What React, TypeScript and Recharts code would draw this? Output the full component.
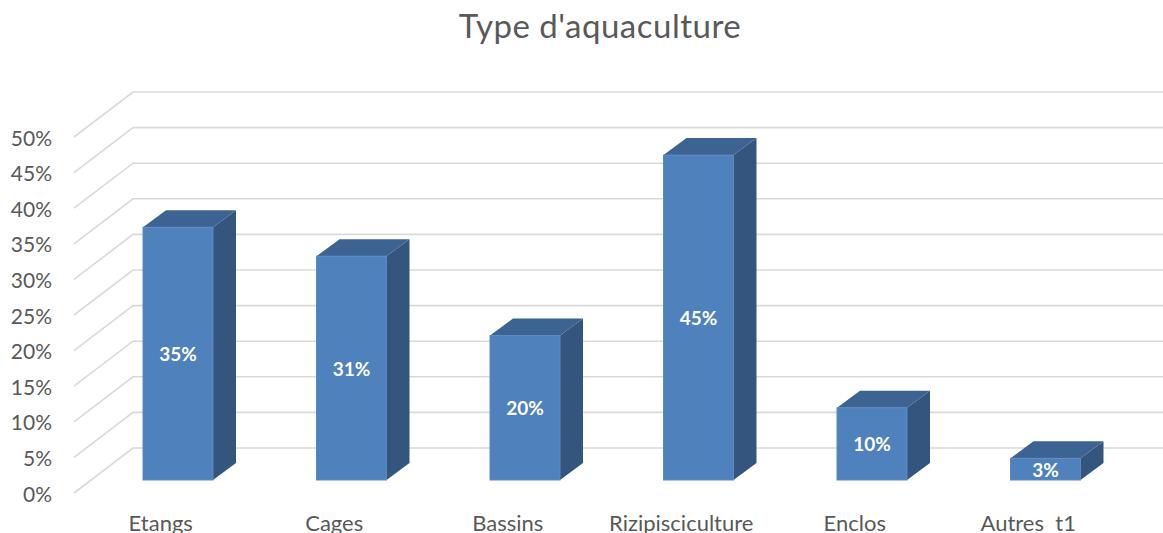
import React from 'react';
import { BarChart, Bar, XAxis, YAxis, CartesianGrid } from 'recharts';

// Répartition des types d'aquaculture (%)
const categories = ['Etangs', 'Cages', 'Bassins', 'Rizipisciculture', 'Enclos', 'Autres  t1'];
const shares = [35, 31, 20, 45, 10, 3];
const yTicks = [0, 5, 10, 15, 20, 25, 30, 35, 40, 45, 50];

const data = categories.map((name, i) => ({ name, value: shares[i] }));

const FONT = 'Lato, "Open Sans", sans-serif';
const TEXT = '#595959';
const GRID = '#D9D9D9';

// décalage de profondeur (vue 3D)
const DEPTH_X = 59;
const DEPTH_Y = 45;
const BAR_DX = 23;
const BAR_DY = 17;

const GridLine = (props: any) => {
  const { x1, x2, y1 } = props;
  return (
    <polyline
      points={`${x1},${y1} ${x1 + DEPTH_X},${y1 - DEPTH_Y} ${x2 + DEPTH_X},${y1 - DEPTH_Y}`}
      fill="none"
      stroke={GRID}
      strokeWidth={1.6}
    />
  );
};

const Column3D = (props: any) => {
  const { x, y, width, height, value } = props;
  const bottom = y + height - 13;
  const h = height * 1.014;
  const top = bottom - h;
  const left = x + 17;
  const right = left + width;
  return (
    <g>
      <polygon
        points={`${right},${top} ${right + BAR_DX},${top - BAR_DY} ${right + BAR_DX},${bottom - BAR_DY} ${right},${bottom}`}
        fill="#34557E"
      />
      <polygon
        points={`${left},${top} ${right},${top} ${right + BAR_DX},${top - BAR_DY} ${left + BAR_DX},${top - BAR_DY}`}
        fill="#3D6392"
      />
      <rect x={left} y={top} width={width} height={h} fill="#4F81BD" stroke="#5A8AC4" strokeWidth={1} />
      <text
        x={left + width / 2}
        y={top + h / 2}
        textAnchor="middle"
        dominantBaseline="central"
        fill="#FFFFFF"
        fontFamily={FONT}
        fontWeight={700}
        fontSize={19}
      >
        {`${value}%`}
      </text>
    </g>
  );
};

const YTick = (props: any) => {
  const { y, payload } = props;
  return (
    <text x={52} y={y} textAnchor="end" dominantBaseline="central" fill={TEXT} fontFamily={FONT} fontSize={21}>
      {`${payload.value}%`}
    </text>
  );
};

const XTick = (props: any) => {
  const { x, payload } = props;
  return (
    <text
      x={x}
      y={531}
      textAnchor="middle"
      fill={TEXT}
      fontFamily={FONT}
      fontSize={22}
      style={{ whiteSpace: 'pre' }}
    >
      {payload.value}
    </text>
  );
};

export default function App() {
  return (
    <div style={{ position: 'absolute', left: 0, top: 0, width: 1163, height: 533, background: '#fff', overflow: 'hidden' }}>
      <svg width={1163} height={60} style={{ position: 'absolute', left: 0, top: 0 }}>
        <text x={600} y={38} textAnchor="middle" fill={TEXT} fontFamily={FONT} fontSize={33} letterSpacing={0.5}>
          Type d'aquaculture
        </text>
      </svg>
      <BarChart width={1163} height={533} data={data} margin={{ top: 137, right: 48, bottom: 0, left: 0 }}>
        <CartesianGrid vertical={false} horizontal={GridLine} />
        <XAxis dataKey="name" height={40} axisLine={false} tickLine={false} tick={XTick} interval={0} />
        <YAxis width={74} domain={[0, 50]} ticks={yTicks} axisLine={false} tickLine={false} tick={YTick} />
        <Bar dataKey="value" barSize={70} shape={Column3D} isAnimationActive={false} />
      </BarChart>
    </div>
  );
}
